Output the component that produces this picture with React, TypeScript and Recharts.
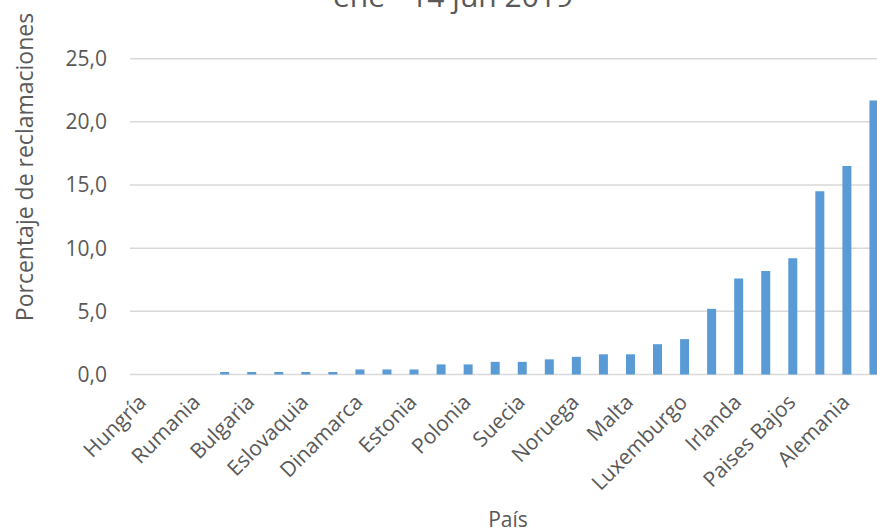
import React from "react";
import { BarChart, Bar, XAxis, YAxis, CartesianGrid, Label } from "recharts";

// one entry per bar; only every other country is labelled in the original
const paises = [
  "Hungría", "", "Rumania", "", "Bulgaria", "", "Eslovaquia", "",
  "Dinamarca", "", "Estonia", "", "Polonia", "", "Suecia", "",
  "Noruega", "", "Malta", "", "Luxemburgo", "", "Irlanda", "",
  "Paises Bajos", "", "Alemania", "",
];

const porcentaje = [
  0, 0, 0, 0.2, 0.2, 0.2, 0.2, 0.2, 0.4, 0.4, 0.4, 0.8, 0.8, 1.0,
  1.0, 1.2, 1.4, 1.6, 1.6, 2.4, 2.8, 5.2, 7.6, 8.2, 9.2, 14.5, 16.5, 21.7,
];

const yTicks = [0, 5, 10, 15, 20, 25];

const titulo = "ene - 14 jun 2019";

const data = paises.map((name, i) => ({ name, value: porcentaje[i] }));

const FONT = "'Open Sans', sans-serif";
const GRAY = "#595959";

const fmt = (v: number) => v.toFixed(1).replace(".", ",");

const CountryTick = ({ x, y, payload }: any) => {
  if (!payload.value) return null;
  return (
    <text
      x={x + 4}
      y={y + 21}
      textAnchor="end"
      fill={GRAY}
      fontSize={21}
      fontFamily={FONT}
      transform={`rotate(-45 ${x + 4} ${y + 21})`}
    >
      {payload.value}
    </text>
  );
};

const App = () => {
  return (
    <div
      style={{
        position: "absolute",
        left: 0,
        top: 0,
        width: 877,
        height: 530,
        overflow: "hidden",
        background: "#fff",
      }}
    >
      <BarChart
        width={900}
        height={530}
        data={data}
        margin={{ top: 58.7, right: 12.5, bottom: 25.5, left: 0 }}
      >
        <CartesianGrid vertical={false} stroke="#d9d9d9" strokeWidth={1.5} />
        <XAxis
          dataKey="name"
          interval={0}
          height={130}
          axisLine={false}
          tickLine={false}
          tick={<CountryTick />}
        >
          <Label
            content={() => (
              <text x={508} y={527} textAnchor="middle" fill={GRAY} fontSize={21} fontFamily={FONT}>
                País
              </text>
            )}
          />
        </XAxis>
        <YAxis
          width={130}
          domain={[0, 25]}
          ticks={yTicks}
          tickFormatter={fmt}
          axisLine={false}
          tickLine={false}
          tickMargin={17}
          tick={{ fill: GRAY, fontSize: 21, fontFamily: FONT }}
        >
          <Label
            content={() => (
              <text
                x={33}
                y={167}
                textAnchor="middle"
                fill={GRAY}
                fontSize={23}
                fontFamily={FONT}
                transform="rotate(-90 33 167)"
              >
                Porcentaje de reclamaciones
              </text>
            )}
          />
        </YAxis>
        <Bar dataKey="value" fill="#5b9bd5" barSize={9} isAnimationActive={false} />
      </BarChart>
      <svg
        width={877}
        height={40}
        style={{ position: "absolute", left: 0, top: 0, pointerEvents: "none" }}
      >
        <text x={453} y={7} textAnchor="middle" fill={GRAY} fontSize={30} fontFamily={FONT}>
          {titulo}
        </text>
      </svg>
    </div>
  );
};

export default App;
